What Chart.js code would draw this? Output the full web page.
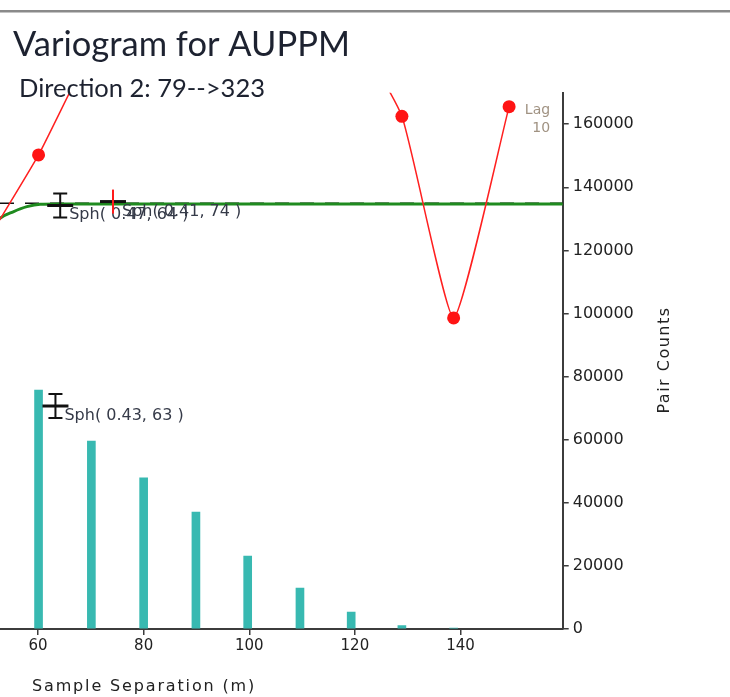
<!DOCTYPE html>
<html>
<head>
<meta charset="utf-8">
<title>Variogram for AUPPM</title>
<script src="https://cdn.jsdelivr.net/npm/chart.js@4.4.1/dist/chart.umd.min.js"></script>
<style>
  html, body { margin: 0; padding: 0; background: #fff; }
  #wrap { position: relative; width: 730px; height: 697px; }
</style>
</head>
<body>
<div id="wrap"><canvas id="vario" width="730" height="697"></canvas></div>
<script>
// texts
const titleText = 'Variogram for AUPPM';
const subtitleText = 'Direction 2: 79-->323';
const xTitle = 'Sample Separation (m)';
const yTitle = 'Pair Counts';

// experimental variogram (mean lag distance, gamma on the hidden left axis)
const lagDist   = [50.1, 60.1, 70.1, 80.0, 89.9, 99.7, 109.6, 119.3, 128.9, 138.7, 149.2];
const gammaVals = [0.72, 0.884, 1.08, 1.22, 1.26, 1.24, 1.20, 1.12, 0.956, 0.580, 0.974];
const lastLagLabel = ['Lag', '10'];

// pair counts per lag (right axis)
const barLags    = [60.1, 70.1, 80.0, 89.9, 99.7, 109.6, 119.3, 128.9, 138.7];
const pairCounts = [75700, 59600, 47900, 37100, 23100, 13000, 5400, 1100, 300];

// fitted model curve + sill
const modelLags  = [50, 52.8, 55.3, 57.9, 60.4, 64, 165];
const modelGamma = [0.740, 0.766, 0.778, 0.7875, 0.792, 0.7925, 0.7925];
const sillLags   = [43.33, 165];
const sillGamma  = 0.794;

// structure range markers
const markerLag    = [64.2, 74.2, 63.3];
const markerGamma  = [0.7897, 0.797, 0.4158];
const markerLabels = ['Sph( 0.47, 64 )', 'Sph( 0.41, 74 )', 'Sph( 0.43, 63 )'];

// axes
const xMin = 52.8, xMax = 159.35;
const xTicks = [60, 80, 100, 120, 140];
const pairMax = 170000;
const pairTicks = [0, 20000, 40000, 60000, 80000, 100000, 120000, 140000, 160000];
const gammaMin = 0, gammaMax = 1;

const markerStyles = [
  { color: '#111', serif: true },
  { color: '#ff1a1a', serif: false },
  { color: '#111', serif: true }
];

const axisColor = '#3c3c3c';

const decor = {
  id: 'decor',
  beforeDraw(chart) {
    const ctx = chart.ctx;
    ctx.save();
    ctx.fillStyle = '#fff';
    ctx.fillRect(0, 0, chart.width, chart.height);
    ctx.fillStyle = '#8a8a8a';
    ctx.fillRect(0, 10, chart.width, 2.5);
    ctx.restore();
  },
  afterDatasetsDraw(chart) {
    const ctx = chart.ctx;
    const xs = chart.scales.x, ys = chart.scales.yGamma;
    ctx.save();
    markerLag.forEach((lag, i) => {
      const x = xs.getPixelForValue(lag), y = ys.getPixelForValue(markerGamma[i]);
      const st = markerStyles[i];
      ctx.beginPath();
      ctx.lineWidth = 3;
      ctx.strokeStyle = '#111';
      ctx.moveTo(x - 13, y); ctx.lineTo(x + 13, y);
      ctx.stroke();
      ctx.beginPath();
      ctx.lineWidth = 2;
      ctx.strokeStyle = st.color;
      ctx.moveTo(x, y - 12); ctx.lineTo(x, y + 12);
      if (st.serif) {
        ctx.moveTo(x - 7, y - 12); ctx.lineTo(x + 7, y - 12);
        ctx.moveTo(x - 7, y + 12); ctx.lineTo(x + 7, y + 12);
      }
      ctx.stroke();
      ctx.font = '16px "DejaVu Sans"';
      ctx.fillStyle = '#353a48';
      ctx.textAlign = 'left';
      ctx.textBaseline = 'alphabetic';
      ctx.fillText(markerLabels[i], x + 9, y + 14);
    });
    // lag label next to the last point
    const n = lagDist.length - 1;
    const px = xs.getPixelForValue(lagDist[n]), py = ys.getPixelForValue(gammaVals[n]);
    ctx.font = '14px "DejaVu Sans"';
    ctx.fillStyle = '#a09282';
    ctx.textAlign = 'right';
    ctx.textBaseline = 'middle';
    ctx.fillText(lastLagLabel[0], px + 41, py + 4);
    ctx.fillText(lastLagLabel[1], px + 41, py + 22);
    ctx.restore();
  },
  afterDraw(chart) {
    const ctx = chart.ctx;
    ctx.save();
    ctx.fillStyle = '#1d2230';
    ctx.textAlign = 'left';
    ctx.textBaseline = 'alphabetic';
    ctx.font = '34.5px Lato';
    ctx.fillText(titleText, 13, 56);
    ctx.font = '25.5px Lato';
    ctx.fillText(subtitleText, 19, 97);

    ctx.fillStyle = '#222';
    ctx.font = '16px "DejaVu Sans"';
    ctx.letterSpacing = '1.85px';
    ctx.fillText(xTitle, 32, 691);

    ctx.translate(665, 360);
    ctx.rotate(-Math.PI / 2);
    ctx.textAlign = 'center';
    ctx.textBaseline = 'middle';
    ctx.letterSpacing = '1.5px';
    ctx.fillText(yTitle, 0, 0);
    ctx.restore();
  }
};

new Chart(document.getElementById('vario'), {
  type: 'line',
  data: {
    datasets: [
      {
        type: 'bar',
        label: 'Pair Counts',
        data: barLags.map((x, i) => ({ x, y: pairCounts[i] })),
        xAxisID: 'x',
        yAxisID: 'yPairs',
        backgroundColor: '#38b9b1',
        barThickness: 8,
        order: 5
      },
      {
        label: 'Sill',
        data: sillLags.map(x => ({ x, y: sillGamma })),
        yAxisID: 'yGamma',
        borderColor: '#111',
        borderWidth: 1.5,
        borderDash: [14, 11],
        pointRadius: 0,
        order: 4
      },
      {
        label: 'Model',
        data: modelLags.map((x, i) => ({ x, y: modelGamma[i] })),
        yAxisID: 'yGamma',
        borderColor: '#1f8b1f',
        borderWidth: 3,
        pointRadius: 0,
        cubicInterpolationMode: 'monotone',
        order: 3
      },
      {
        label: 'Experimental',
        data: lagDist.map((x, i) => ({ x, y: gammaVals[i] })),
        yAxisID: 'yGamma',
        borderColor: '#ff2020',
        borderWidth: 1.5,
        pointRadius: 6.5,
        pointBackgroundColor: '#ff1414',
        pointBorderWidth: 0,
        tension: 0.15,
        order: 2
      }
    ]
  },
  options: {
    responsive: false,
    animation: false,
    layout: { autoPadding: false, padding: { top: 92.7, left: 0, right: 0, bottom: 0 } },
    plugins: { legend: { display: false }, tooltip: { enabled: false }, title: { display: false } },
    scales: {
      x: {
        type: 'linear',
        min: xMin,
        max: xMax,
        offset: false,
        afterBuildTicks: s => { s.ticks = xTicks.map(v => ({ value: v })); },
        afterFit: s => { s.height = 68; s.paddingLeft = 0; s.paddingRight = 0; },
        border: { display: true, color: axisColor, width: 2 },
        grid: { drawOnChartArea: false, drawTicks: true, tickLength: 6, color: axisColor, lineWidth: 1.5, offset: false },
        ticks: { color: '#222', font: { family: 'DejaVu Sans', size: 15 }, padding: 2, maxRotation: 0, autoSkip: false, callback: v => String(v) }
      },
      yPairs: {
        type: 'linear',
        position: 'right',
        min: 0,
        max: pairMax,
        afterBuildTicks: s => { s.ticks = pairTicks.map(v => ({ value: v })); },
        afterFit: s => { s.width = 167.3; s.paddingTop = 0; s.paddingBottom = 0; },
        border: { display: true, color: axisColor, width: 2 },
        grid: { drawOnChartArea: false, drawTicks: true, tickLength: 6, color: axisColor, lineWidth: 1.5 },
        ticks: { color: '#222', font: { family: 'DejaVu Sans', size: 16 }, padding: 4, autoSkip: false, callback: v => String(v) }
      },
      yGamma: {
        type: 'linear',
        display: false,
        min: gammaMin,
        max: gammaMax
      }
    }
  },
  plugins: [decor]
});
</script>
</body>
</html>
